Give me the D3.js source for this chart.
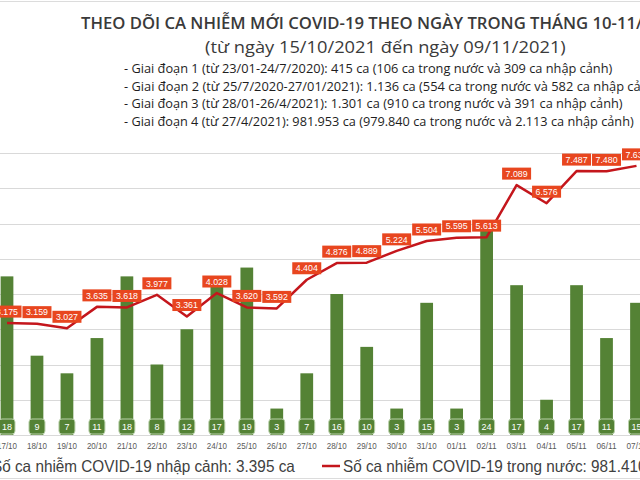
<!DOCTYPE html>
<html><head><meta charset="utf-8">
<script src="https://cdn.jsdelivr.net/npm/d3@7"></script>
<style>html,body{margin:0;padding:0;background:#fff;overflow:hidden}</style>
</head><body><svg id="c" width="640" height="480"></svg>
<script>
// ---- data ----
const dates = ["17/10","18/10","19/10","20/10","21/10","22/10","23/10","24/10","25/10","26/10","27/10",
  "28/10","29/10","30/10","31/10","01/11","02/11","03/11","04/11","05/11","06/11","07/11"];
const importedCases = [18,9,7,11,18,8,12,17,19,3,7,16,10,3,15,3,24,17,4,17,11,15];
const domesticCases = [3175,3159,3027,3635,3618,3977,3361,4028,3620,3592,4404,4876,4889,5224,5504,5595,5613,7089,6576,7487,7480,7635];
const lineTicks = [0,1000,2000,3000,4000,5000,6000,7000,8000];
const titleText = "THEO DÕI CA NHIỄM MỚI COVID-19 THEO NGÀY TRONG THÁNG 10-11/2021";
const subtitleText = "(từ ngày 15/10/2021 đến ngày 09/11/2021)";
const phaseLines = [
  "- Giai đoạn 1 (từ 23/01-24/7/2020): 415 ca (106 ca trong nước và 309 ca nhập cảnh)",
  "- Giai đoạn 2 (từ 25/7/2020-27/01/2021): 1.136 ca (554 ca trong nước và 582 ca nhập cảnh)",
  "- Giai đoạn 3 (từ 28/01-26/4/2021): 1.301 ca (910 ca trong nước và 391 ca nhập cảnh)",
  "- Giai đoạn 4 (từ 27/4/2021): 981.953 ca (979.840 ca trong nước và 2.113 ca nhập cảnh)"
];
const legendImported = "Số ca nhiễm COVID-19 nhập cảnh: 3.395 ca";
const legendDomestic = "Số ca nhiễm COVID-19 trong nước: 981.410 ca";

// ---- setup ----
const svg = d3.select("#c");
const vn = d3.formatLocale({decimal:",", thousands:".", grouping:[3], currency:["",""]});
const fmt = vn.format(",d");
const baseY = 435, topY = 153;
const step = 629.5/21;
const x = d3.scaleBand().domain(dates).range([7 - step/2, 636.5 + step/2]).paddingInner(0.575).paddingOuter(0.2875);
const xc = d => x(d) + x.bandwidth()/2;
const yBar = d3.scaleLinear().domain([0,32]).range([baseY, topY]);
const yLine = d3.scaleLinear().domain([0,8000]).range([baseY, topY]);

svg.append("line").attr("x1",0).attr("x2",640).attr("y1",1.5).attr("y2",1.5).attr("stroke","#dcdcdc");
svg.append("line").attr("x1",0).attr("x2",640).attr("y1",478.5).attr("y2",478.5).attr("stroke","#dcdcdc");

function fitText(str, visible, xPos, yPos, width, size, weight, family, fill) {
  const t = svg.append("text").attr("font-family", family).attr("font-size", size)
    .attr("font-weight", weight).attr("fill", fill).text(visible);
  const w = t.node().getComputedTextLength();
  t.text(str).attr("transform", `translate(${xPos},${yPos}) scale(${width / w},1)`);
  return t;
}
const TF = "Open Sans";
fitText(titleText, "THEO DÕI CA NHIỄM MỚI COVID-19 THEO NGÀY TRONG THÁNG 10-11/", 81, 29, 562, 17, 600, TF, "#3a3a3a");
fitText(subtitleText, subtitleText, 205, 53, 361, 16.5, 400, TF, "#3a3a3a");
const phaseVisible = [phaseLines[0], "- Giai đoạn 2 (từ 25/7/2020-27/01/2021): 1.136 ca (554 ca trong nước và 582 ca nhập cả", phaseLines[2], phaseLines[3]];
const phaseW = [489, 517, 499, 510];
const phaseY = [73, 90.5, 108, 125.5];
phaseLines.forEach((s,i) => fitText(s, phaseVisible[i], 124, phaseY[i], phaseW[i], 12.5, 400, TF, "#1e1e1e"));

// gridlines
svg.append("g").selectAll("line").data(lineTicks).join("line")
  .attr("x1",0).attr("x2",640).attr("y1",d=>Math.round(yLine(d))+0.5).attr("y2",d=>Math.round(yLine(d))+0.5)
  .attr("stroke","#d9d9d9").attr("stroke-width",1);

// x axis labels
const xAxis = d3.axisBottom(x).tickSize(0).tickPadding(0);
const ga = svg.append("g").attr("transform",`translate(0,${baseY})`).call(xAxis);
ga.select(".domain").remove();
ga.selectAll("text").attr("font-family","Liberation Sans").attr("font-size",9.5).attr("fill","#595959")
  .attr("dy",0).attr("y",14).attr("textLength",20).attr("lengthAdjust","spacingAndGlyphs");

// bars
const BAR = "#548235";
svg.append("g").selectAll("rect").data(dates).join("rect")
  .attr("x", d=>x(d)).attr("width", x.bandwidth())
  .attr("y", (d,i)=>yBar(importedCases[i])).attr("height",(d,i)=>baseY - yBar(importedCases[i]))
  .attr("fill", BAR);
const bl = svg.append("g").selectAll("g").data(dates).join("g").attr("transform", d=>`translate(${xc(d)},0)`);
bl.append("rect").attr("x",-8).attr("y",419).attr("width",16).attr("height",15).attr("rx",3)
  .attr("fill",BAR).attr("stroke","#b9d1aa").attr("stroke-width",1);
bl.append("text").attr("text-anchor","middle").attr("y",430).attr("font-family","Liberation Sans")
  .attr("font-size",9).attr("fill","#fff").text((d,i)=>importedCases[i]);

// line
const LINE = "#c4161c";
svg.append("path").datum(dates).attr("fill","none").attr("stroke",LINE).attr("stroke-width",2.5)
  .attr("stroke-linejoin","round")
  .attr("d", d3.line().x(d=>xc(d)).y((d,i)=>yLine(domesticCases[i])));
const ll = svg.append("g").selectAll("g").data(dates).join("g")
  .attr("transform",(d,i)=>`translate(${xc(d)},${yLine(domesticCases[i])})`);
ll.append("rect").attr("x",-14.5).attr("y",-17.5).attr("width",29).attr("height",12).attr("fill","#e8461f");
ll.append("text").attr("text-anchor","middle").attr("y",-8.3).attr("font-family","Liberation Sans")
  .attr("font-size",8.8).attr("fill","#fff").text((d,i)=>fmt(domesticCases[i]));

// legend
fitText(legendImported, legendImported, -8, 472, 303, 16.5, 400, "Liberation Sans", "#404040");
svg.append("line").attr("x1",322).attr("x2",340).attr("y1",466).attr("y2",466).attr("stroke",LINE).attr("stroke-width",2.5);
fitText(legendDomestic, "Số ca nhiễm COVID-19 trong nước: 981.41", 343, 472, 295, 16.5, 400, "Liberation Sans", "#404040");
</script></body></html>
